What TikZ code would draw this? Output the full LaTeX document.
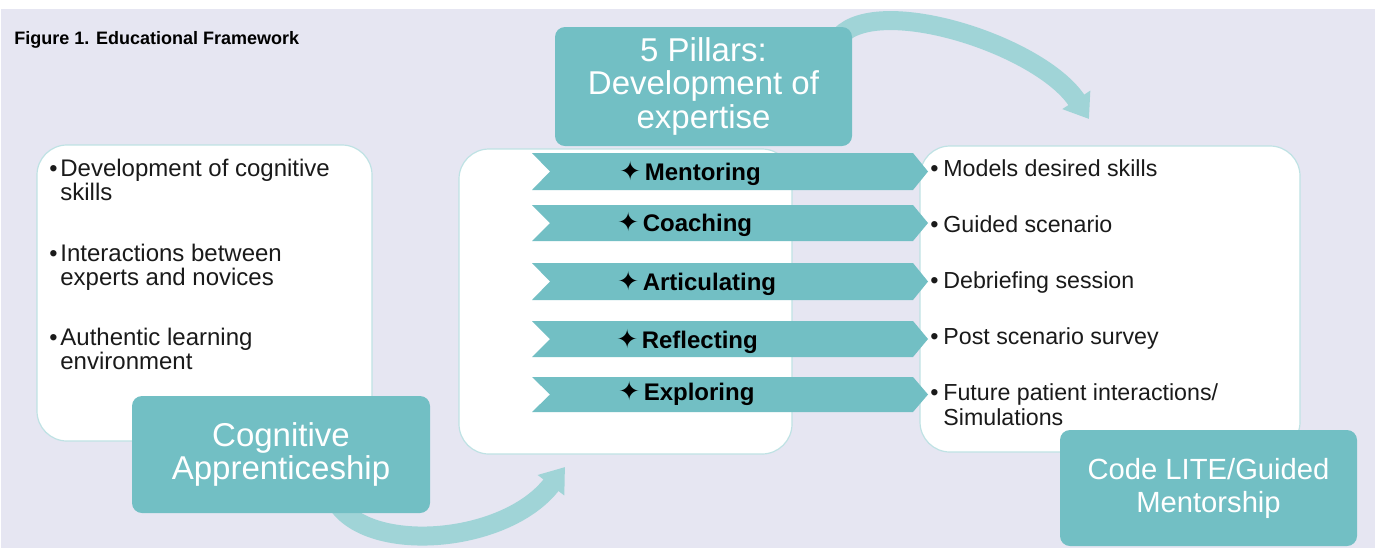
\documentclass[tikz,border=0pt]{standalone}
\usepackage{fontspec}
\setmainfont{Liberation Sans}
\newfontfamily\symfont{DejaVu Sans}
\usetikzlibrary{arrows.meta}

\definecolor{pagebg}{HTML}{E6E6F2}
\definecolor{tealfill}{HTML}{72BFC4}
\definecolor{tealsweep}{HTML}{A0D4D7}
\definecolor{panelline}{HTML}{BFE2E4}
\definecolor{ink}{HTML}{1A1A1A}

% two lines stacked, baseline on the first one
\newcommand\stackedlines[2]{\vtop{\hbox{#1}\hbox{#2}}}
\newcommand\pillarstar{\raisebox{-0.3pt}{\symfont\fontsize{13pt}{14pt}\selectfont ✦}\hspace{1.8pt}}

\begin{document}
\begin{tikzpicture}[x=0.5pt,y=-0.5pt,
  panel/.style={fill=white, draw=panelline, line width=0.6pt, rounded corners=15pt},
  banner/.style={fill=tealfill, draw=none, rounded corners=5pt, text=white,
    align=center, inner sep=0pt},
  ribbon/.style={fill=tealfill, draw=none},
  pillarlabel/.style={anchor=base west, inner sep=0pt, text=black,
    font=\fontsize{12pt}{14pt}\selectfont\bfseries},
  dotmark/.style={anchor=base west, inner sep=0pt, text=ink,
    font=\fontsize{11.75pt}{12.25pt}\selectfont},
  lefttext/.style={anchor=base west, inner sep=0pt, text=ink,
    font=\fontsize{12pt}{12.25pt}\selectfont},
  righttext/.style={anchor=base west, inner sep=0pt, text=ink,
    font=\fontsize{11.6pt}{12.5pt}\selectfont},
  sweep/.style={draw=tealsweep, line width=9.5pt,
    -{Triangle[width=16pt,length=11.5pt]}}
]
\useasboundingbox (0,0) rectangle (1375,548);

% page background
\fill[pagebg] (1,9) rectangle (1375,548);

% title
\node[anchor=base west, inner sep=0pt, font=\fontsize{9pt}{10pt}\selectfont\bfseries]
  (title) at (14,44) {Figure 1. Educational Framework};

% white panels
\draw[panel] (37,145) rectangle (372,441);
\draw[panel] (459,149) rectangle (792,454);
\draw[panel] (920,146) rectangle (1300,452);

% curved sweeps between the stages
\coordinate (sweepAstart) at (335,500);
\coordinate (sweepAend) at (565,467);
\coordinate (sweepBstart) at (840,36);
\coordinate (sweepBend) at (1089,119);
\draw[sweep] (sweepAstart) .. controls (365,555) and (505,545) .. (sweepAend);
\draw[sweep] (sweepBstart) .. controls (880,-6) and (1040,45) .. (sweepBend);

% stage headings
\node[banner, minimum width=148.5pt, minimum height=59.5pt,
  font=\fontsize{16.5pt}{17pt}\selectfont] (pillars) at (703.5,86.5)
  {5 Pillars:\\[-0.5pt]Development of\\expertise};
\node[banner, minimum width=149pt, minimum height=58.5pt,
  font=\fontsize{16.5pt}{16.5pt}\selectfont] (cogapp) at (281,454.5)
  {Cognitive\\Apprenticeship};
\node[banner, minimum width=148.5pt, minimum height=58pt,
  font=\fontsize{14.6pt}{16.5pt}\selectfont] (codelite) at (1208.5,488)
  {Code LITE/Guided\\Mentorship};

% left panel items
\node[dotmark] (lb1) at (49,176) {•};
\node[lefttext] (lt1) at (60,176) {\stackedlines{Development of cognitive}{skills}};
\node[dotmark] (lb2) at (49,261) {•};
\node[lefttext] (lt2) at (60,261) {\stackedlines{Interactions between}{experts and novices}};
\node[dotmark] (lb3) at (49,345) {•};
\node[lefttext] (lt3) at (60,345) {\stackedlines{Authentic learning}{environment}};

% pillar ribbons
\foreach \top/\bot in {153/190, 205/241, 263/300, 321/357, 377/412}{
  \fill[ribbon] (532,\top) -- (913,\top) -- (928,{(\top+\bot)/2}) -- (913,\bot)
    -- (532,\bot) -- (550,{(\top+\bot)/2}) -- cycle;
}
\node[pillarlabel] (p1) at (619,180) {\pillarstar Mentoring};
\node[pillarlabel] (p2) at (617,231) {\pillarstar Coaching};
\node[pillarlabel] (p3) at (617,290) {\pillarstar Articulating};
\node[pillarlabel] (p4) at (616,348) {\pillarstar Reflecting};
\node[pillarlabel] (p5) at (618,400) {\pillarstar Exploring};

% right panel items
\node[dotmark] (rb1) at (930,176) {•};
\node[righttext] (rt1) at (943,176) {Models desired skills};
\node[dotmark] (rb2) at (930,232) {•};
\node[righttext] (rt2) at (943,232) {Guided scenario};
\node[dotmark] (rb3) at (930,288) {•};
\node[righttext] (rt3) at (943,288) {Debriefing session};
\node[dotmark] (rb4) at (930,344) {•};
\node[righttext] (rt4) at (943,344) {Post scenario survey};
\node[dotmark] (rb5) at (930,400) {•};
\node[righttext] (rt5) at (943,400) {\stackedlines{Future patient interactions/}{Simulations}};

\end{tikzpicture}
\end{document}
